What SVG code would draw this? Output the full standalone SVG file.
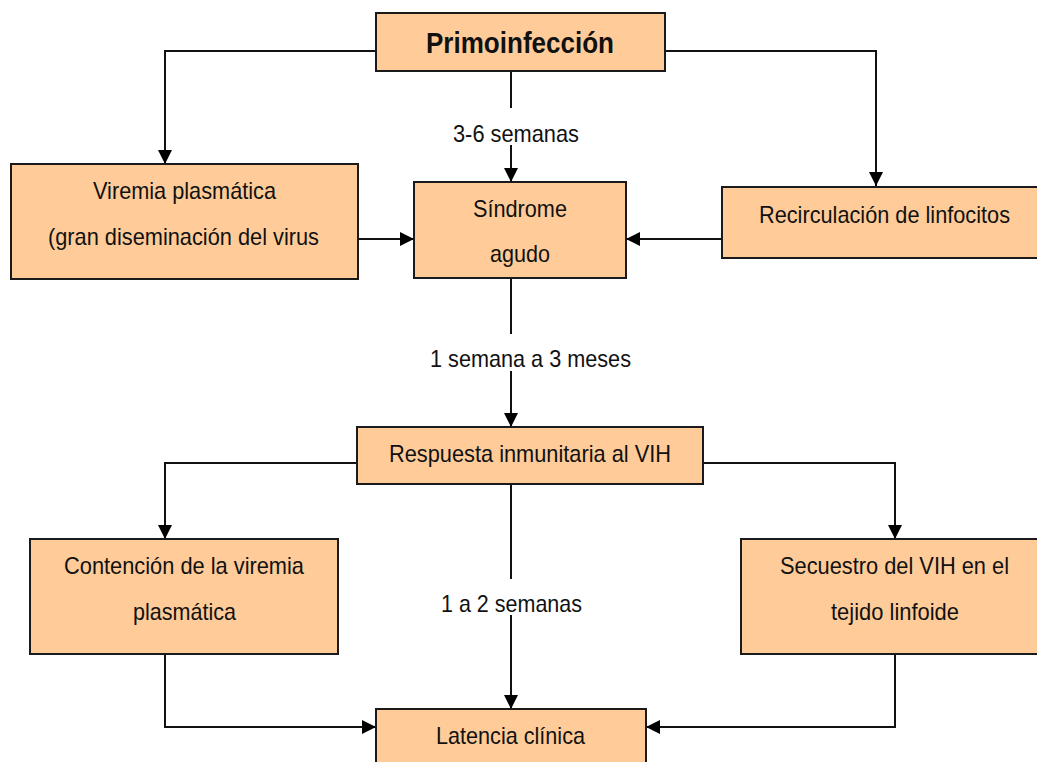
<svg xmlns="http://www.w3.org/2000/svg" width="1037" height="762" viewBox="0 0 1037 762">
<style>
.box{fill:#FFCC99;stroke:#1a1a1a;stroke-width:2}
.t{font-family:"Liberation Sans",Arial,sans-serif;font-size:24px;fill:#111;text-anchor:middle}
.b{font-weight:bold;font-size:29px}
.c{fill:none;stroke:#111;stroke-width:2}
</style>
<defs>
<marker id="ah" markerWidth="14" markerHeight="14" refX="14" refY="7" orient="auto" markerUnits="userSpaceOnUse">
<path d="M0,0 L14,7 L0,14 z" fill="#000"/>
</marker>
</defs>
<rect width="1037" height="762" fill="#fff"/>
<g id="connectors">
<path class="c" d="M376,51 H165 V164" marker-end="url(#ah)"/>
<path class="c" d="M665,51 H876 V186" marker-end="url(#ah)"/>
<path class="c" d="M511,71 V108"/>
<path class="c" d="M511,145 V182" marker-end="url(#ah)"/>
<path class="c" d="M358,239 H414" marker-end="url(#ah)"/>
<path class="c" d="M722,239 H626" marker-end="url(#ah)"/>
<path class="c" d="M511,278 V334"/>
<path class="c" d="M511,371 V427" marker-end="url(#ah)"/>
<path class="c" d="M357,463 H165 V539" marker-end="url(#ah)"/>
<path class="c" d="M703,463 H895 V539" marker-end="url(#ah)"/>
<path class="c" d="M511,484 V579"/>
<path class="c" d="M511,615 V709" marker-end="url(#ah)"/>
<path class="c" d="M165,654 V727 H376" marker-end="url(#ah)"/>
<path class="c" d="M895,654 V727 H646" marker-end="url(#ah)"/>
<text class="t" x="516" y="142" textLength="126" lengthAdjust="spacingAndGlyphs">3-6 semanas</text>
<text class="t" x="530.5" y="367" textLength="201" lengthAdjust="spacingAndGlyphs">1 semana a 3 meses</text>
<text class="t" x="511.5" y="612" textLength="141" lengthAdjust="spacingAndGlyphs">1 a 2 semanas</text>
</g>
<g id="primoinfeccion">
<rect class="box" x="376" y="13" width="289" height="58"/>
<text class="t b" x="520" y="53" textLength="188" lengthAdjust="spacingAndGlyphs">Primoinfección</text>
</g>
<g id="viremia">
<rect class="box" x="11" y="164" width="347" height="115"/>
<text class="t" x="184.5" y="199" textLength="183" lengthAdjust="spacingAndGlyphs">Viremia plasmática</text>
<text class="t" x="183.5" y="245" textLength="271" lengthAdjust="spacingAndGlyphs">(gran diseminación del virus</text>
</g>
<g id="sindrome">
<rect class="box" x="414" y="182" width="212" height="96"/>
<text class="t" x="520" y="217" textLength="94" lengthAdjust="spacingAndGlyphs">Síndrome</text>
<text class="t" x="520" y="262" textLength="60" lengthAdjust="spacingAndGlyphs">agudo</text>
</g>
<g id="recirculacion">
<rect class="box" x="722" y="187" width="330" height="71"/>
<text class="t" x="884.5" y="223" textLength="251" lengthAdjust="spacingAndGlyphs">Recirculación de linfocitos</text>
</g>
<g id="respuesta">
<rect class="box" x="357" y="427" width="346" height="57"/>
<text class="t" x="530" y="462" textLength="282" lengthAdjust="spacingAndGlyphs">Respuesta inmunitaria al VIH</text>
</g>
<g id="contencion">
<rect class="box" x="30" y="539" width="308" height="115"/>
<text class="t" x="184" y="574" textLength="240" lengthAdjust="spacingAndGlyphs">Contención de la viremia</text>
<text class="t" x="184.5" y="620" textLength="103" lengthAdjust="spacingAndGlyphs">plasmática</text>
</g>
<g id="secuestro">
<rect class="box" x="741" y="539" width="310" height="115"/>
<text class="t" x="894.5" y="574" textLength="229" lengthAdjust="spacingAndGlyphs">Secuestro del VIH en el</text>
<text class="t" x="895" y="620" textLength="128" lengthAdjust="spacingAndGlyphs">tejido linfoide</text>
</g>
<g id="latencia">
<rect class="box" x="376" y="709" width="270" height="70"/>
<text class="t" x="510.5" y="744" textLength="149" lengthAdjust="spacingAndGlyphs">Latencia clínica</text>
</g>
</svg>
